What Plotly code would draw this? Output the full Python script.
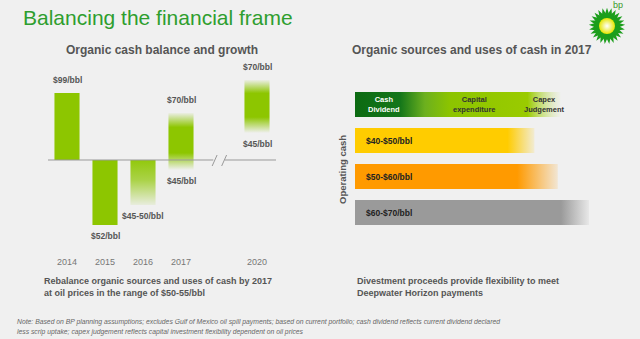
import plotly.graph_objects as go

W, H = 640, 339
BG = "#f0f0f0"
GREEN = (141, 198, 0)

# ---------------- data: left chart ----------------
years = ["2014", "2015", "2016", "2017", "2020"]
year_pos = [0, 1, 2, 3, 5]
bar_high = [67, 0, 0, 47, 80]
bar_low = [0, -65, -45, -10, 27]
top_labels = ["$99/bbl", "", "", "$70/bbl", "$70/bbl"]
bottom_labels = ["", "$52/bbl", "$45-50/bbl", "$45/bbl", "$45/bbl"]
fade_style = ["solid", "solid", "bottom", "both", "both"]

# ---------------- data: right chart ----------------
rows = ["Uses", "$40-$50/bbl", "$50-$60/bbl", "$60-$70/bbl"]
row_len = [79, 69, 78, 90]
uses_labels = ["Cash<br>Dividend", "Capital<br>expenditure", "Capex<br>Judgement"]
uses_pos = [11, 46, 73]

def px(x):
    return x / W

def py(y):
    return 1 - y / H

def rgba(c, a):
    return f"rgba({c[0]},{c[1]},{c[2]},{a})"

fig = go.Figure()

# left bars
for i in range(len(years)):
    x0, x1 = year_pos[i] - 0.33, year_pos[i] + 0.33
    lo, hi = bar_low[i], bar_high[i]
    st = fade_style[i]
    if st == "solid":
        cs = [[0, rgba(GREEN, 1)], [1, rgba(GREEN, 1)]]
    elif st == "bottom":
        cs = [[0, rgba(GREEN, 0.08)], [0.55, rgba(GREEN, 0.7)], [1, rgba(GREEN, 0.95)]]
    else:
        cs = [[0, rgba(GREEN, 0.0)], [0.3, rgba(GREEN, 1)], [0.75, rgba(GREEN, 1)], [1, rgba(GREEN, 0.05)]]
    fig.add_trace(go.Scatter(
        x=[x0, x1, x1, x0, x0], y=[lo, lo, hi, hi, lo],
        mode="lines", line=dict(width=0), fill="toself",
        fillgradient=dict(type="vertical", colorscale=cs),
        hoverinfo="skip", showlegend=False, xaxis="x", yaxis="y"))

# right bars
row_scales = [
    [[0, "#0c6a12"], [0.22, "#14761a"], [0.34, "#6cb01e"], [0.46, "#8cc400"], [0.84, "#9acb00"], [1, "rgba(200,225,120,0.05)"]],
    [[0, "#ffcc00"], [0.85, "#ffcc00"], [1, "rgba(255,204,0,0.12)"]],
    [[0, "#ff9a00"], [0.8, "#ff9a00"], [1, "rgba(255,154,0,0.12)"]],
    [[0, "#9a9a9a"], [0.88, "#9a9a9a"], [1, "rgba(154,154,154,0.1)"]],
]
for i in range(len(rows)):
    y0, y1 = i - 0.35, i + 0.35
    L = row_len[i]
    fig.add_trace(go.Scatter(
        x=[0, L, L, 0, 0], y=[y0, y0, y1, y1, y0],
        mode="lines", line=dict(width=0), fill="toself",
        fillgradient=dict(type="horizontal", colorscale=row_scales[i]),
        hoverinfo="skip", showlegend=False, xaxis="x2", yaxis="y2"))

# logo (pixel-space hidden axes)
fig.add_trace(go.Scatter(
    x=[607], y=[26], mode="markers",
    marker=dict(symbol="circle", size=22, color="#1c9e1c", line=dict(width=0)),
    hoverinfo="skip", showlegend=False, xaxis="x3", yaxis="y3"))
for ang in [0, 14.4, 28.8, 43.2, 57.6]:
    fig.add_trace(go.Scatter(
        x=[607], y=[26], mode="markers",
        marker=dict(symbol="star", size=26, color="#1c9e1c", angle=ang, line=dict(width=0)),
        hoverinfo="skip", showlegend=False, xaxis="x3", yaxis="y3"))
fig.add_trace(go.Scatter(
    x=[607], y=[26], mode="markers",
    marker=dict(symbol="circle", size=16, color="#e6e600",
                gradient=dict(type="radial", color="#ffffff"), line=dict(width=0)),
    hoverinfo="skip", showlegend=False, xaxis="x3", yaxis="y3"))

annotations = []
# left labels
for i in range(len(years)):
    if top_labels[i]:
        annotations.append(dict(x=year_pos[i], y=bar_high[i] + 6, xref="x", yref="y",
                                text=f"<b>{top_labels[i]}</b>", showarrow=False,
                                yanchor="bottom", font=dict(size=8.5, color="#555")))
    if bottom_labels[i]:
        annotations.append(dict(x=year_pos[i], y=bar_low[i] - 4, xref="x", yref="y",
                                text=f"<b>{bottom_labels[i]}</b>", showarrow=False,
                                yanchor="top", font=dict(size=8.5, color="#555")))
# right labels
for i in range(1, len(rows)):
    annotations.append(dict(x=3.5, y=i, xref="x2", yref="y2", text=f"<b>{rows[i]}</b>",
                            showarrow=False, xanchor="left", font=dict(size=8.5, color="#222")))
for j, t in enumerate(uses_labels):
    annotations.append(dict(x=uses_pos[j], y=0, xref="x2", yref="y2", text=f"<b>{t}</b>",
                            showarrow=False, font=dict(size=7.5, color="#ffffff" if j == 0 else "#333333"),
                            align="center"))

def paper_text(x, y, text, size, color, xanchor="left", bold=False, italic=False, angle=0, family="Liberation Sans, Arial"):
    t = text
    if bold:
        t = f"<b>{t}</b>"
    if italic:
        t = f"<i>{t}</i>"
    annotations.append(dict(x=px(x), y=py(y), xref="paper", yref="paper", text=t,
                            showarrow=False, xanchor=xanchor, yanchor="middle", textangle=angle,
                            font=dict(size=size, color=color, family=family), align="left"))

paper_text(21, 18, "Balancing the financial frame", 21, "#2e9e2e")
paper_text(162, 50, "Organic cash balance and growth", 12, "#555", xanchor="center", bold=True)
paper_text(472, 50, "Organic sources and uses of cash in 2017", 12, "#555", xanchor="center", bold=True)
paper_text(42, 281, "Rebalance organic sources and uses of cash by 2017", 9, "#555", bold=True)
paper_text(42, 293, "at oil prices in the range of $50-55/bbl", 9, "#555", bold=True)
paper_text(355, 281, "Divestment proceeds provide flexibility to meet", 9, "#555", bold=True)
paper_text(355, 293, "Deepwater Horizon payments", 9, "#555", bold=True)
paper_text(15, 322, "Note: Based on BP planning assumptions; excludes Gulf of Mexico oil spill payments; based on current portfolio; cash dividend reflects current dividend declared", 6.8, "#666666", italic=True)
paper_text(15, 332, "less scrip uptake; capex judgement reflects capital investment flexibility dependent on oil prices", 6.8, "#666666", italic=True)
paper_text(342, 170, "Operating cash", 9.5, "#555", xanchor="center", bold=True, angle=-90)
paper_text(618, 5, "bp", 9, "#3a9a2a", xanchor="center")

# baseline with axis break + break marks
shapes = [
    dict(type="line", xref="x", yref="y", x0=-0.5, x1=3.85, y0=0, y1=0, line=dict(color="#999", width=1)),
    dict(type="line", xref="x", yref="y", x0=4.15, x1=5.5, y0=0, y1=0, line=dict(color="#999", width=1)),
    dict(type="line", xref="x", yref="y", x0=3.82, x1=3.95, y0=-6, y1=5, line=dict(color="#999", width=1)),
    dict(type="line", xref="x", yref="y", x0=4.07, x1=4.2, y0=-6, y1=5, line=dict(color="#999", width=1)),
]

fig.update_layout(
    width=W, height=H, margin=dict(l=0, r=0, t=0, b=0),
    paper_bgcolor=BG, plot_bgcolor="rgba(0,0,0,0)",
    font=dict(family="Liberation Sans, Arial", color="#555"),
    annotations=annotations, shapes=shapes, showlegend=False,
    xaxis=dict(domain=[px(48), px(276)], range=[-0.5, 5.5], tickvals=year_pos, ticktext=years,
               showgrid=False, zeroline=False, showline=False, ticks="", anchor="y",
               tickfont=dict(size=9, color="#777"), fixedrange=True),
    yaxis=dict(domain=[py(255), py(60)], range=[-95, 100], visible=False, fixedrange=True),
    xaxis2=dict(domain=[px(355), px(615)], range=[0, 100], visible=False, anchor="y2"),
    yaxis2=dict(domain=[py(230.5), py(86.5)], range=[3.5, -0.5], visible=False, anchor="x2"),
    xaxis3=dict(domain=[0, 1], range=[0, W], visible=False, anchor="y3"),
    yaxis3=dict(domain=[0, 1], range=[H, 0], visible=False, anchor="x3"),
)

fig.write_html("out.html")
